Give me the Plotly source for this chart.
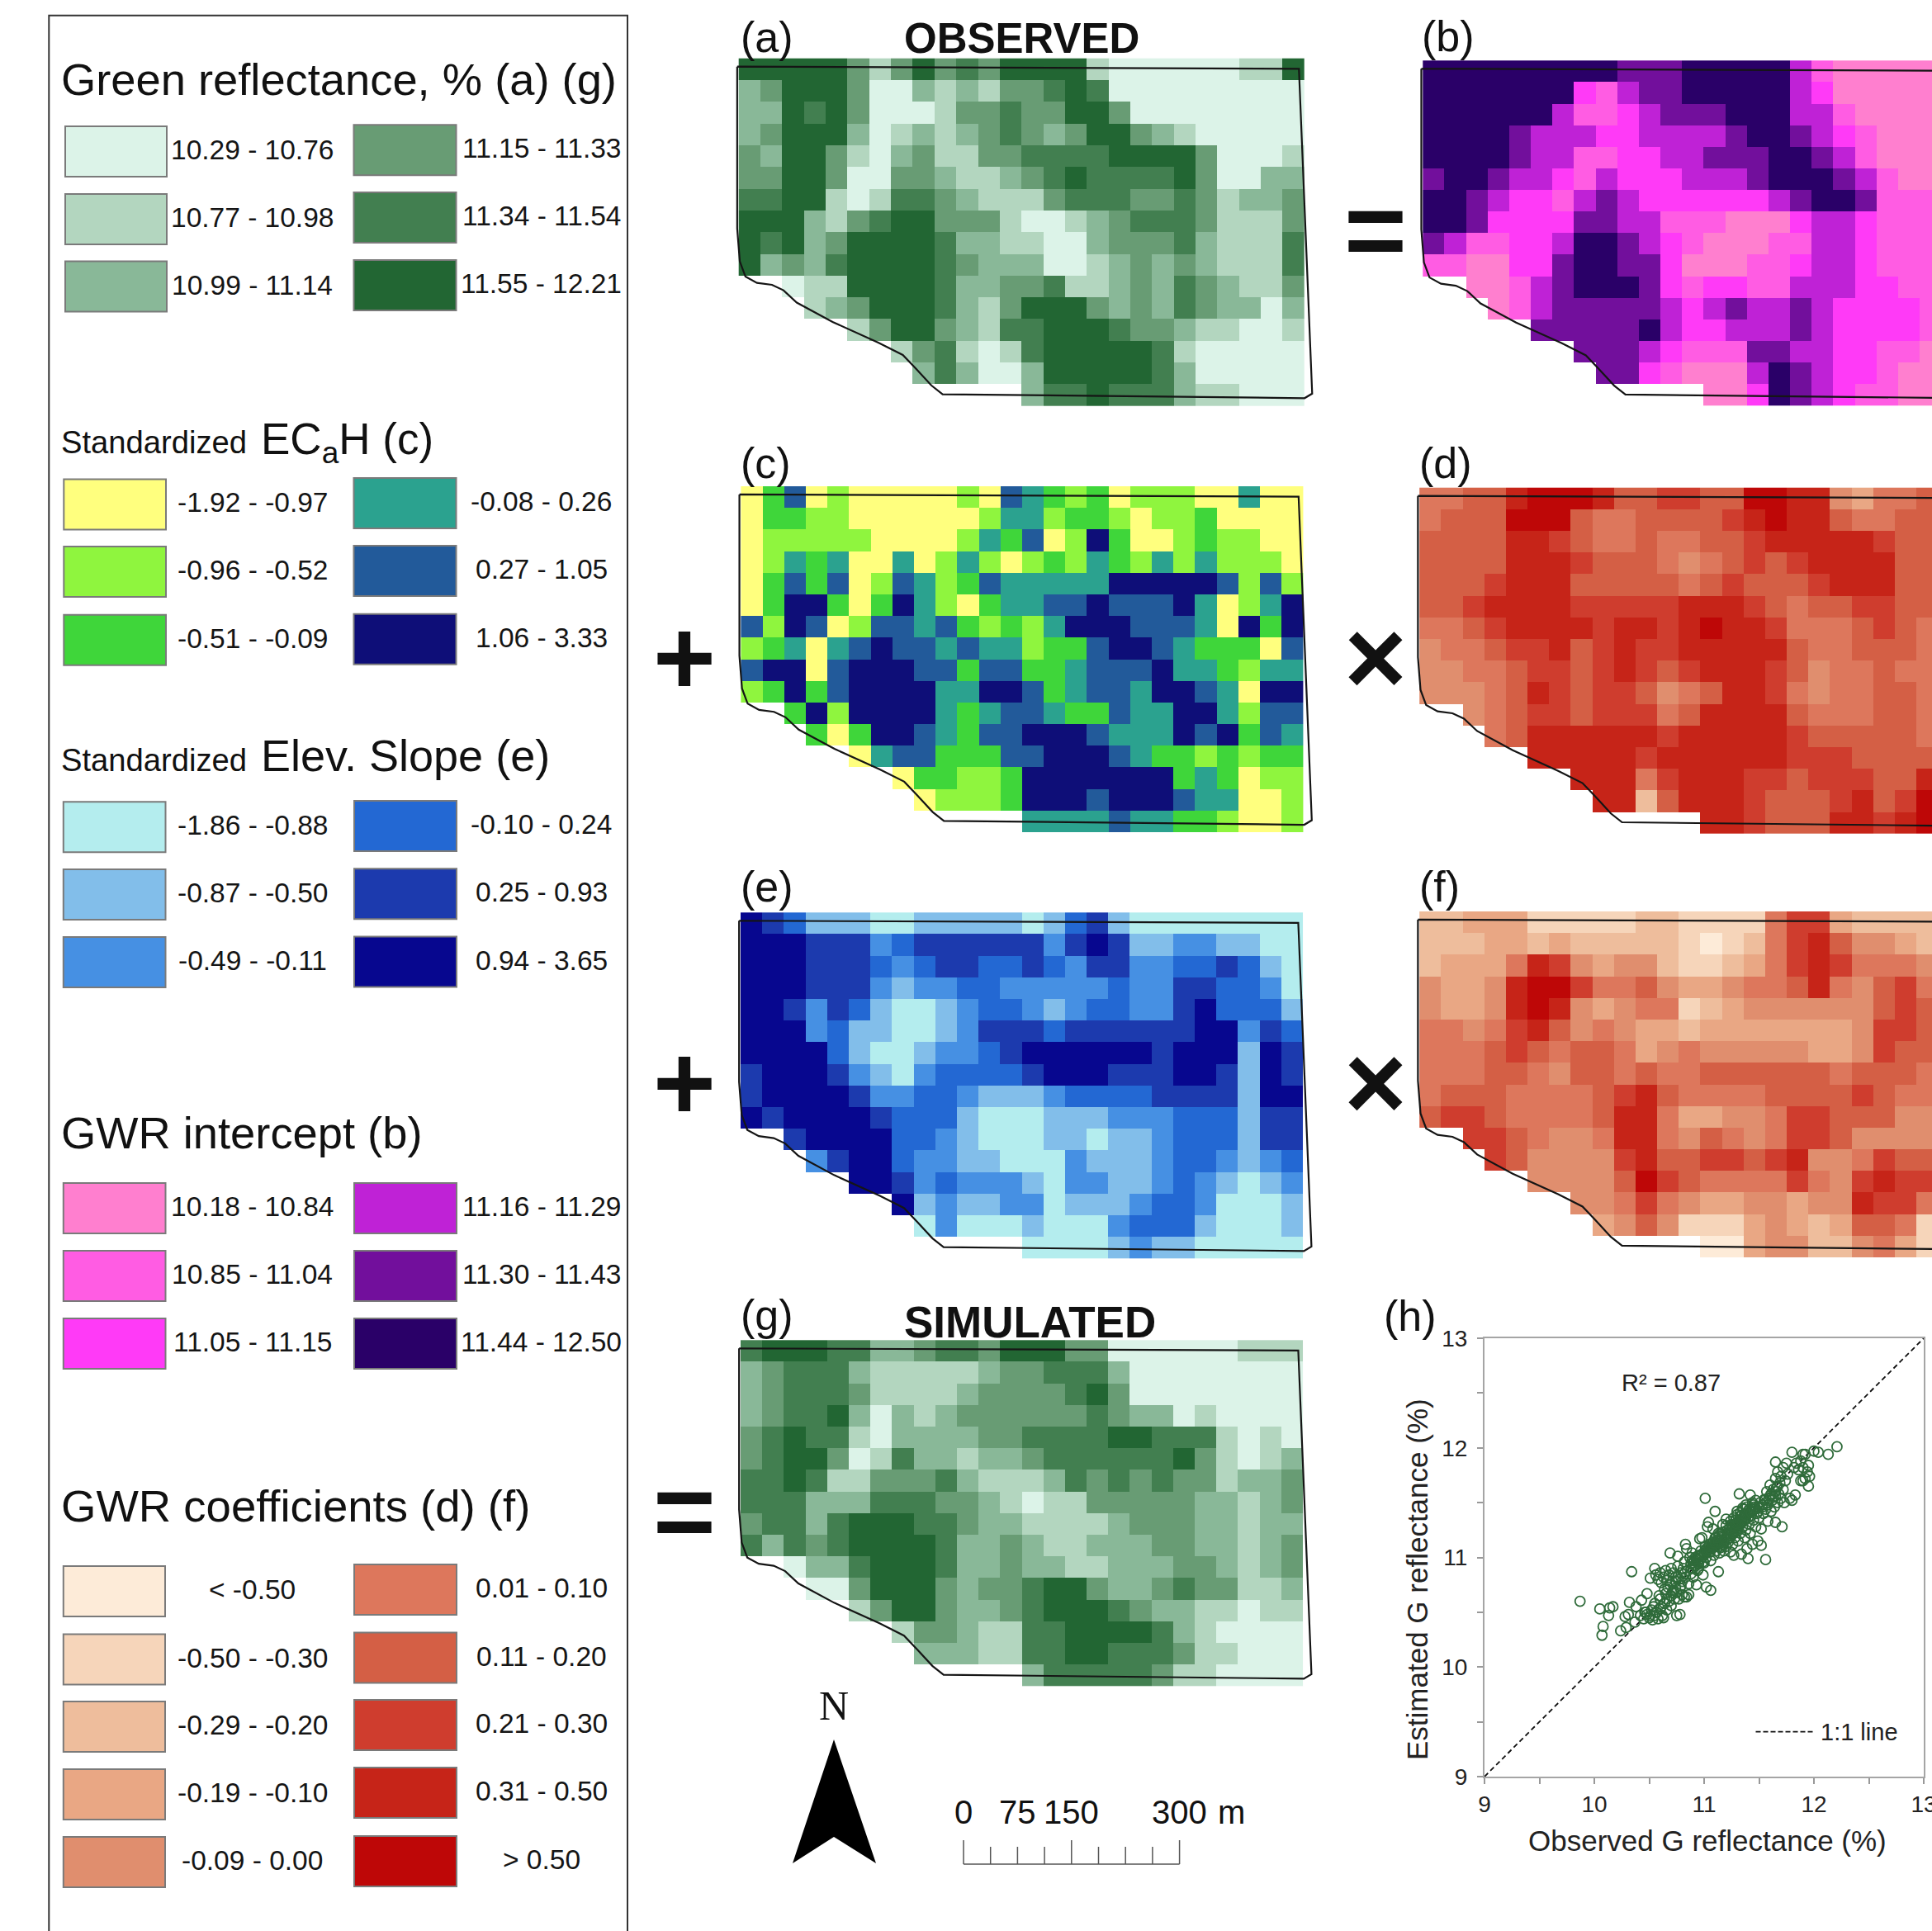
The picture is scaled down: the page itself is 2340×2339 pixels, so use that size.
import plotly.graph_objects as go

W, H = 2340, 2339

# ---------- class rasters (one char per cell, '.' = no data, spaces ignored) ----------
GRID_A = [
"66666 4 2 4 6 4 5 4 6666 2 111111 22 6",
"3 4 666 4 11 3 2 3 2 44 5 6 5 111111111",
"33 6 5 6 4 111 2 44 5 44 66 4 11111111",
"3 4 666 3 1 2 3 2 3 4 5 4 3 4 66 4 3 2 11111",
"4 3 66 4 2 1 3 4 22 44 5555 6666 4 111 2",
"44 66 4 11 44 3 22 3 4 5 6 5555 6 4 11 33",
"55 66 2 1 2 55 4 3 222 4 555 44 5 4 2 33 4",
"666 3 2 4 5 66 444 2 11 2 3 4 555 4 222 4",
"6 5 6 3 4 6666 5 33 22 11 3 444 5 3 222 5",
"6 3 4 3 5 6666 5 4 333 11 2 3 4 3 4 3 222 5",
".. 1 22 6666 5 33 44 5 22 3 4 3 5 4 3 22 4",
"... 2 3 4 666 5 3 2 4 666 4 3 4 3 5 4 33 1 3",
"..... 2 4 66 4 3 2 55 666 5 44 3 22 11 2",
"....... 2 4 5 2 1 2 5 66666 5 2 11111",
"........ 3 5 3 11 3 66666 5 3 11111",
"............. 3 55 6 555 3 22 111",
]
GRID_B = [
"666666666 555 66666 4 2 11111",
"6666666 3 2 4 55 66666 4 3 11111",
"666666 4 22 3 4 555 666 44 2 1111",
"6666 5 444 33 4444 5 66 5 4 3 2 111",
"6666 5 44 22 33 44 555 66 5 4 2 111",
"5 66 5 44 3 2 4 333 444 5 666 5 4 2 11",
"66 5 4 33 2 4 5 4 333333 4 5 66 5 222",
"66 5 3333 55 44 222 111 3 44 3 222",
"5 4 22 33 4 66 5 4 3 2 111 22 44 3 222",
"22 11 33 5 66 55 3 111 22 3 44 3 222",
".. 11 2 4 5 666 5 3 2 33 22 444 33 22",
"... 1 2 4 55555 4 3 4 5 44 5 4 3333 2",
"..... 55555 6 4 33 444 5 4 3333 2",
"....... 555 4 3 222 55 44 33 22 1",
"........ 55 3 2 111 4 6 5 4 33 2 11",
"............. 11 3 6 5 4 3 22 11",
]
GRID_C = [
"1 3 5 1 2 11111 2 1 5 4 3 2 3 1 222 11 4 11",
"1 33 22 111111 2 44 2 33 2 1 22 3 1111",
"1 22222 1111 2 4 3 5 1 2 6 3 11 2 3 22 11",
"1 2 4 3 4 11 4 1 2 4 2 1 2 3 2 4 3 2 4 2 4 222 1",
"1 3 5 3 5 1 2 5 4 2 3 5 44444 66666 5 2 5 2",
"1 3 66 3 1 3 6 4 2 1 3 44 55 6 555 6 4 1 2 4 6",
"5 2 6 5 1 2 55 4 5 3 2 3 2 4 666 555 4 1 6 3 6",
"2 3 4 1 4 5 6 55 4 5 44 2 33 5 66 5 4 333 1 5",
"5 66 1 5 666 55 3 55 33 4 555 6 44 3 2 44",
"2 3 6 3 5 6666 44 66 5 3 4 55 4 66 5 4 1 66",
".. 3 6 2 6666 4 3 4 55 4 33 5 44 66 4 2 55",
"... 3 1 3 66 5 4 3 55 666 5 444 6 5 6 3 5 4",
"..... 1 4 55 333 55 666 5 4 33 2 3 2 33",
"....... 1 33 22 3 6666666 3 4 3 1 22",
"........ 1 222 3 666 5 666 5 44 11 2",
"............. 4444 5 44 33 2 11 2",
]
GRID_D = [
"55 66 8 999 8 66 77 66 99 88 4 3 55 6",
"5 666 999 6 55 6666 7 8 9 88 6 55 66",
"6666 88 7 6 55 6 55 66 7 88888 7 66",
"6666 888 7 666 5 4 5 6 7 6 7 8888 66",
"666 7 888 66666 5 6 7 666 7 888 66",
"66 7 8888 77777 888 7 6 5 66 77 66",
"55 6 7 8888 7 88 7 8 9 88 7 555 6 7 6 5",
"4 55 6 77 8 6 7 8 77 88888 6 55 666 5",
"44 55 6 77 6 7 8 7 6 7 888 7 6 4 55 6 55",
"444 5 6 8 7 6 77 6 4 5 6 88 7 5 4 55 66 5",
".. 4 5 6 77 6 777 5 6 8888 6 555 66 5",
"... 5 6 888888 7 88888 7 66666 5",
"..... 88888 7 888888 777 6666",
"....... 888 5 7 888 77 6 777 66 8",
"........ 88 2 6 888 7 666 7 8 6 7 9",
"............. 88 7 666 88 7 8 9",
]
GRID_E = [
"6 5 4 222 11 22222 1 2 4 5 2 11111111",
"666 555 3 4 555555 3 5 6 5 22 33 22 11",
"666 555 4 3 4 55 44 5 4 3 55 33 44 5 4 2 1",
"666 555 3 2 33 44 33333 4 33 55 44 3 1",
"66 5 3 5 4 2 11 2 3 44 3 2 3 44 33 5 6 444 2",
"666 3 4 22 11 2 3 555 4 555555 66 3 5 4",
"6666 4 2 11 2 33 4 5 666666 5 666 2 6 5",
"5 666 5 3 2 1 3 4444 5 666 555 66 5 2 6 5",
"5 6666 5 33 44 3 222 3 4444 5555 2 66",
"6 5 6666 5 444 2 111 222 333 444 2 55",
".. 5 6666 44 3 2 111 22 1 22 3 444 2 55",
"... 3 5 66 4 33 22 111 3 222 3 44 3 2 3 4",
"..... 66 5 3 4 333 2 1 33 22 3 4 3 2 1 2 3",
"....... 6 2 3 22 33 1 222 3 44 3 111 2",
"........ 1 3 111 2 111 3 444 2 111 2",
"............. 1111 2 3 22 11111",
]
GRID_F = [
"22 333 11111 22 1111 5 77 3 222 2",
"222 33 2 3 22222 1 0 1 2 5 7 8 6 44 3 2",
"2 333 5 8 7 4 3 44 2 11 2 3 5 7 8 7 555 4",
"4 33 4 8 99 7 55 6 4 33 4 55 6 8 5 4 6 7 5",
"4 33 4 8 9 8 4 3 4 55 1 2 3 444444 6 7 6",
"55 4 5 7 8 6 4 5 4 33 2 3333333 4 77 6",
"555 6 7 6 5 66 5 3 4 5 44444 33 4 7 66",
"555 66 5 4 66 5 6 55 666666 5 666 5",
"5 666 5555 6 7 8 6 5555 6666 7 6 55",
"6 77 6 5555 6 88 5 33 44 5 77 666 44",
".. 77 6 5 44 5 88 5 4 6 5 4 5 77 6 4444",
"... 7 6 4444 7 8 66 77 6 7 8 44 5 7 66",
"..... 4444 6 9 7 6 5555 7 5 4 7 8 77",
"....... 44 5 7 5 4 33 44 3 44 8 77 5",
"........ 3 4 6 4 111 3 4 3 2 3 66 5 1",
"............. 00 3 44 22 4 5 3 1",
]
GRID_G = [
"5 666 55 33 4 55 4 666 44 111111 222",
"3 4 555 3 22222 3 44 555 3 11111111",
"3 4 555 4 2222 3 4444 5 6 4 11111111",
"3 4 55 6 3 1 3 2 3 444444 5 4 33 1 2 1111",
"4 5 6 55 2 1 3333 44 5555 66 555 2 1 2 1",
"4 5 66 4 1 2 5 33 2 33 4 555555 6 4 2 1 2 3",
"55 6 5 22 444 5 3 222 3 5 4 5 4 5 44 2 33 4",
"555 333 555 44 3 2 1 22 44444 33 2 3 4",
"4 55 3 5 666 55 4 33 2222 3 444 33 2 33",
"5 3 5 4 5 6666 5 33 4 3 22 333 44 33 2 3 4",
".. 1 33 5 666 5 33 4 33 22 333 44 3 2 3 4",
"... 11 4 666 4 3 44 5 66 4 33 4 5 44 22 3",
"..... 2 4 66 4 33 4 5 666 5 4 33 22 1 22",
"....... 2 44 3 22 55 6666 5 3 2 1111",
"........ 333 22 55 66 555 4 22 111",
"............. 3 55555 4 22 1111",
]

# outline of the field, in cell units
OUTLINE_U = [-0.07, 25.77, 26.38, 26.03, 9.38, 8.86, 8.16, 7.55, 6.42, 4.32, 2.67, 2.06, 1.53, 0.84, 0.31, 0.05, -0.07, -0.07]
OUTLINE_V = [0.38, 0.48, 15.44, 15.65, 15.47, 15.06, 14.3, 13.66, 13.09, 12.14, 11.25, 10.68, 10.43, 10.34, 10.05, 9.35, 7.83, 0.38]

# ---------- colours ----------
C_GREEN = ["#DCF3E8", "#B3D6BF", "#89B898", "#689C74", "#427F50", "#226633"]
C_PINK = ["#FF7FCF", "#FF5CE3", "#FF3AF7", "#BF22D6", "#720F9C", "#2A0068"]
C_EC = ["#FFFF7E", "#8FF53E", "#3FD63A", "#2BA28F", "#225A9A", "#0E0E78"]
C_SLOPE = ["#B4EDEE", "#82BEEA", "#4690E3", "#2368D3", "#1C3AAE", "#07078F"]
C_COEF = ["#FDEBD8", "#F6D5BA", "#EEBD9C", "#E9A784", "#E08E6E", "#DD775C", "#D45F45", "#CF3D2E", "#C62418", "#BE0707"]

# ---------- legend labels ----------
L_GREEN = ["10.29 - 10.76", "10.77 - 10.98", "10.99 - 11.14", "11.15 - 11.33", "11.34 - 11.54", "11.55 - 12.21"]
L_EC = ["-1.92 - -0.97", "-0.96 - -0.52", "-0.51 - -0.09", "-0.08 - 0.26", "0.27 - 1.05", "1.06 - 3.33"]
L_SLOPE = ["-1.86 - -0.88", "-0.87 - -0.50", "-0.49 - -0.11", "-0.10 - 0.24", "0.25 - 0.93", "0.94 - 3.65"]
L_PINK = ["10.18 - 10.84", "10.85 - 11.04", "11.05 - 11.15", "11.16 - 11.29", "11.30 - 11.43", "11.44 - 12.50"]
L_COEF = ["< -0.50", "-0.50 - -0.30", "-0.29 - -0.20", "-0.19 - -0.10", "-0.09 - 0.00",
          "0.01 - 0.10", "0.11 - 0.20", "0.21 - 0.30", "0.31 - 0.50", "> 0.50"]

# ---------- scatter (h) ----------
OBS = [9.87,10.07,10.08,10.05,10.13,10.14,10.17,10.24,10.29,10.37,10.28,10.31,10.32,10.38,10.34,10.43,10.48,10.51,10.55,10.69,10.76,10.83,10.75,10.78,
11.01,11.10,11.02,11.06,11.13,11.40,11.56,11.52,11.32,11.42,12.21,12.13,12.04,12.0,11.80,11.90,11.95,11.95,11.96,11.65,11.75,11.71,11.65,11.83,
10.42,10.45,10.47,10.50,10.52,10.53,10.55,10.55,10.57,10.58,10.60,10.60,10.62,10.63,10.64,10.65,10.66,10.67,10.68,10.70,10.70,10.72,10.73,10.74,10.75,10.77,10.78,10.80,10.82,10.84,10.86,
10.56,10.58,10.60,10.61,10.63,10.65,10.66,10.68,10.70,10.71,10.72,10.74,10.76,10.77,10.79,10.80,10.81,10.82,10.83,10.84,10.85,10.86,10.87,10.88,10.88,10.89,10.90,10.90,10.91,10.92,10.93,10.94,10.95,10.95,10.96,10.97,10.98,10.99,10.99,11.00,11.00,11.01,11.02,11.02,11.03,11.04,11.05,11.05,11.06,11.07,11.08,11.08,11.09,11.10,11.10,11.11,11.12,11.13,11.14,11.14,11.15,11.16,11.17,11.17,11.18,11.19,11.20,11.20,11.21,11.22,11.23,11.24,11.24,11.25,11.26,11.26,11.27,11.28,11.28,11.29,11.30,11.30,11.31,11.32,11.33,11.33,11.34,11.35,11.35,11.36,11.37,11.37,11.38,11.38,11.39,11.40,11.41,11.41,11.42,11.43,11.44,11.44,11.45,11.46,11.47,11.47,11.48,11.49,11.50,11.50,11.52,11.53,11.54,11.55,11.56,11.57,11.58,11.58,11.60,11.60,11.61,11.62,11.63,11.64,11.65,11.65,11.66,11.67,11.67,11.68,11.69,11.70,11.70,11.72,11.72,11.73,11.74,11.76,11.78,11.80,11.82,11.84,11.86,11.88,11.88,11.90,11.90,11.92,11.92,11.94,
11.00,11.02,11.04,11.06,11.08,11.09,11.11,11.12,11.14,11.15,11.16,11.18,11.18,11.20,11.21,11.22,11.23,11.25,11.26,11.27,11.28,11.29,11.30,11.31,11.32,11.33,11.34,11.35,11.37,11.38,11.40,11.42,11.44,11.46,10.90,10.92,10.93,10.95,
10.88,10.89,10.91,10.93,10.94,10.96,10.97,10.98,11.00,11.01,11.03,11.04,11.05,11.07,11.08,11.10,11.11,11.13,11.14,11.16,11.17,11.19,11.20,11.21,11.23,11.24,11.26,11.27,11.29,11.30,11.31,11.33,11.34,11.36,11.37,11.39,11.41,11.43,11.45,11.47,11.49,11.51,11.53,11.55,11.57,11.59,11.61,11.63,11.65,11.67,
10.46,10.48,10.51,10.54,10.56,10.59,10.61,10.64,10.66,10.69,10.71,10.74,10.76,10.79,10.82]
EST = [10.60,10.29,10.37,10.53,10.47,10.54,10.55,10.33,10.36,10.41,10.46,10.48,10.59,10.55,10.87,10.61,10.67,10.81,10.90,11.04,11.01,11.12,10.47,10.48,
11.54,11.42,10.73,10.70,10.87,10.99,10.98,11.11,11.58,11.57,12.01,11.94,11.96,11.97,11.96,11.94,11.84,11.65,11.74,11.87,11.86,11.28,11.32,11.57,
10.47,10.44,10.50,10.45,10.52,10.43,10.47,10.58,10.50,10.44,10.62,10.53,10.47,10.45,10.58,10.67,10.52,10.73,10.60,10.65,10.56,10.70,10.62,10.78,10.68,10.62,10.72,10.66,10.64,10.64,10.66,
10.84,10.80,10.86,10.77,10.82,10.88,10.79,10.84,10.90,10.78,10.86,10.82,10.92,10.80,10.86,10.78,10.90,10.96,10.82,11.08,10.88,10.76,11.00,10.85,10.94,11.04,10.90,10.82,10.97,11.00,10.75,10.88,10.94,11.02,11.17,11.06,11.18,10.84,10.96,11.04,10.95,11.10,11.00,11.08,11.28,11.32,11.05,11.12,10.97,11.08,11.26,11.14,11.02,11.10,11.18,11.06,11.12,11.22,11.04,11.15,11.09,11.20,11.12,11.30,11.06,11.17,11.35,11.10,11.22,11.14,11.26,11.05,11.18,11.30,11.12,11.23,11.02,11.28,11.18,11.34,11.24,11.42,11.15,11.30,11.22,11.38,11.03,11.28,11.45,11.33,11.18,11.40,11.25,11.48,11.08,11.36,11.30,11.44,11.22,11.38,11.50,11.12,11.34,11.44,11.28,11.52,11.40,11.15,11.46,11.36,11.26,11.48,11.40,11.52,11.44,11.60,11.33,11.48,11.56,11.66,11.42,11.52,11.62,11.46,11.56,11.72,11.64,11.50,11.78,11.58,11.68,11.54,11.74,11.62,11.82,11.50,11.70,11.76,11.54,11.52,11.82,11.86,11.80,11.70,11.88,11.70,11.82,11.72,11.94,11.78,
11.02,11.05,11.07,11.08,11.09,11.11,11.13,11.16,11.10,11.13,11.16,11.14,11.19,11.18,11.16,11.22,11.20,11.23,11.27,11.22,11.24,11.28,11.30,11.26,11.34,11.30,11.32,11.36,11.34,11.37,11.40,11.42,11.42,11.46,10.95,10.92,10.98,10.90,
10.90,10.97,10.93,10.99,10.95,11.01,10.99,11.03,11.03,11.06,11.06,11.10,11.08,11.12,11.11,11.13,11.18,11.15,11.21,11.19,11.23,11.17,11.29,11.25,11.26,11.33,11.29,11.36,11.31,11.39,11.33,11.41,11.38,11.44,11.39,11.46,11.43,11.41,11.48,11.45,11.42,11.50,11.46,11.53,11.50,11.54,11.58,11.55,11.60,11.65,
10.50,10.48,10.47,10.55,10.50,10.65,10.55,10.71,10.62,10.75,10.68,10.72,10.82,10.74,10.85]
ONE_ONE = [9, 13]
KEY_X = [11.47, 11.99]
KEY_Y = [9.41, 9.41]
TICKS = [9, 10, 11, 12, 13]
MINOR_TICKS = [9.5, 10.5, 11.5, 12.5]
SCALE_TICKS = [0, 37.5, 75, 112.5, 150, 187.5, 225, 262.5, 300]

FONT = "Liberation Sans"
BLACK = "#111111"


def px(x):
    return x / W


def py(y):
    return 1 - y / H


def stepped(cols):
    n = len(cols)
    out = []
    for i, c in enumerate(cols):
        out += [[i / n, c], [(i + 1) / n, c]]
    return out


def parse(grid, base):
    rows = [r.replace(" ", "") for r in grid]
    return [[None if ch == "." else int(ch) - base for ch in row] for row in rows]


fig = go.Figure()
layout = dict(template="none", width=W, height=H, margin=dict(l=0, r=0, t=0, b=0, pad=0, autoexpand=False),
              paper_bgcolor="white", plot_bgcolor="white", showlegend=False,
              font=dict(family=FONT, color=BLACK))
annotations = []
shapes = []


def text(x, y, s, size, anchor="center", family=FONT, bold=False, color=BLACK, angle=0):
    annotations.append(dict(x=px(x), y=py(y), xref="paper", yref="paper", text=("<b>%s</b>" % s) if bold else s,
                            showarrow=False, xanchor=anchor, yanchor="middle", textangle=angle,
                            font=dict(size=size, family=family, color=color)))


# ---------- maps ----------
MAPS = [
    (GRID_A, C_GREEN, 1, 894.7, 70.7, 26.33, 26.3),
    (GRID_B, C_PINK, 1, 1723.3, 73.3, 26.16, 26.15),
    (GRID_C, C_EC, 1, 897.4, 589.0, 26.21, 26.2),
    (GRID_D, C_COEF, 0, 1719.2, 590.7, 26.16, 26.2),
    (GRID_E, C_SLOPE, 1, 897.0, 1105.3, 26.21, 26.2),
    (GRID_F, C_COEF, 0, 1719.2, 1104.0, 26.16, 26.17),
    (GRID_G, C_GREEN, 1, 897.0, 1623.3, 26.21, 26.2),
]
for i, (grid, cols, base, x0, y0, cw, ch) in enumerate(MAPS):
    k = i + 2
    xa, ya = "x%d" % k, "y%d" % k
    z = parse(grid, base)
    n = len(cols)
    fig.add_trace(go.Heatmap(z=z, x=[j + 0.5 for j in range(len(z[0]))], y=[j + 0.5 for j in range(len(z))],
                             colorscale=stepped(cols), zmin=-0.5, zmax=n - 0.5, showscale=False,
                             hoverinfo="skip", xaxis=xa, yaxis=ya))
    fig.add_trace(go.Scatter(x=OUTLINE_U, y=OUTLINE_V, mode="lines", line=dict(color="#151515", width=2.2),
                             hoverinfo="skip", xaxis=xa, yaxis=ya))
    left = x0 - 0.5 * cw
    right = min(W, x0 + 27 * cw)
    top = y0 - 0.5 * ch
    bottom = y0 + 16.5 * ch
    layout["xaxis%d" % k] = dict(domain=[px(left), px(right)], range=[-0.5, (right - x0) / cw], visible=False, anchor=ya, automargin=False)
    layout["yaxis%d" % k] = dict(domain=[py(bottom), py(top)], range=[16.5, -0.5], visible=False, anchor=xa, automargin=False)

# ---------- scatter ----------
fig.add_trace(go.Scatter(x=ONE_ONE, y=ONE_ONE, mode="lines", line=dict(color="#111111", width=1.8, dash="6px,4px"), hoverinfo="skip"))
fig.add_trace(go.Scatter(x=OBS, y=EST, mode="markers", hoverinfo="skip",
                         marker=dict(symbol="circle-open", size=12, color="#2F6B3A", line=dict(width=1.8, color="#2F6B3A"))))
fig.add_trace(go.Scatter(x=KEY_X, y=KEY_Y, mode="lines", line=dict(color="#111111", width=1.8, dash="6px,3px"), hoverinfo="skip"))
axis_common = dict(range=[9, 13], tickmode="array", tickvals=TICKS, ticks="outside", ticklen=7,
                   tickcolor="#999999", tickwidth=1.5, showgrid=False, zeroline=False, showline=True, mirror=True,
                   linecolor="#A5A5A5", linewidth=2, tickfont=dict(size=28, family=FONT, color="#222222"),
                   automargin=False, ticklabeloverflow="allow",
                   minor=dict(tickmode="array", tickvals=MINOR_TICKS, ticks="outside", ticklen=7, tickcolor="#999999", tickwidth=1.5, showgrid=False))
layout["xaxis"] = dict(domain=[px(1798), px(2330)], anchor="y", ticklabelstandoff=0, **axis_common)
layout["yaxis"] = dict(domain=[py(2152), py(1621)], anchor="x", ticklabelstandoff=6, **axis_common)
text(2068, 2229, "Observed G reflectance (%)", 35, color="#222222")
text(1716, 1913, "Estimated G reflectance (%)", 35, color="#222222", angle=-90)
text(2024, 1675, "R² = 0.87", 29, color="#222222")
text(2203, 2098, "1:1 line", 29, anchor="left", color="#222222")

# ---------- panel labels and operators ----------
for lab, x, y in [("(a)", 895, 45), ("(b)", 1720, 44), ("(c)", 895, 561), ("(d)", 1717, 561), ("(e)", 895, 1074),
                  ("(f)", 1717, 1074), ("(g)", 895, 1593), ("(h)", 1674, 1594)]:
    text(x, y, lab, 52, anchor="left")
text(1093, 46, "OBSERVED", 51, anchor="left", bold=True)
text(1093, 1601, "SIMULATED", 53, anchor="left", bold=True)
for sym, x, y in [("=", 1666, 278), ("+", 829, 796), ("×", 1666, 796), ("+", 829, 1311), ("×", 1666, 1311), ("=", 829, 1830)]:
    text(x, y, sym, 130, bold=True)

# ---------- legend panel ----------
shapes.append(dict(type="path", path="M 59.3,2345 L 59.3,18.7 L 760,18.7 L 760,2345", line=dict(color="#333333", width=2)))


def swatches(cols, labels, lx, rx, ltops, rtops, h, ltext=305.5, rtext=655.5):
    half = len(cols) // 2
    for j in range(half):
        for (xs, tops, idx, tx) in ((lx, ltops, j, ltext), (rx, rtops, j + half, rtext)):
            y = tops[j]
            shapes.append(dict(type="rect", xref="paper", yref="paper", x0=px(xs[0]), x1=px(xs[1]), y0=py(y), y1=py(y + h),
                               fillcolor=cols[idx], line=dict(color="#7A7A7A", width=2)))
            text(tx, y + h / 2 - 2, labels[idx], 33.5, color="#151515")


swatches(C_GREEN, L_GREEN, (79, 202), (428.5, 552.5), [153, 235, 316.6], [151.3, 233, 315], 61)
swatches(C_EC, L_EC, (77.3, 201), (428.5, 552.5), [580.4, 662, 744.7], [579, 661, 743.7], 61)
swatches(C_SLOPE, L_SLOPE, (76.8, 200.5), (429, 553), [971.2, 1053, 1135], [970, 1052.3, 1134.5], 61)
swatches(C_PINK, L_PINK, (76.8, 200.5), (429, 553), [1433, 1515, 1597], [1433, 1515, 1597], 61)
swatches(C_COEF, L_COEF, (76.8, 200), (429, 553), [1897, 1979.5, 2061, 2143, 2225], [1895, 1977.5, 2059, 2141, 2224], 61)

text(72, 97, "Green reflectance, % (a) (g)", 54.3, anchor="left")
text(72, 536, "Standardized", 38.2, anchor="left")
text(314, 535, "EC<sub>a</sub>H (c)", 53, anchor="left")
text(72, 920, "Standardized", 38.2, anchor="left")
text(314, 915, "Elev. Slope (e)", 54, anchor="left")
text(72, 1372, "GWR intercept (b)", 54.3, anchor="left")
text(72, 1824, "GWR coefficients (d) (f)", 54.5, anchor="left")

# ---------- north arrow and scale bar ----------
shapes.append(dict(type="path", path="M 1010,2107 L 1061,2257 L 1010,2225 L 960,2257 Z", fillcolor="black", line=dict(width=0)))
text(1010, 2066, "N", 50, family="Liberation Serif")
SC0, SC1 = 1167, 1428.6
shapes.append(dict(type="line", xref="paper", yref="paper", x0=px(SC0), x1=px(SC1), y0=py(2258), y1=py(2258), line=dict(color="#555555", width=1.5)))
for t in SCALE_TICKS:
    x = SC0 + (SC1 - SC0) * t / 300
    top = 2229 if t in (0, 150, 300) else 2237
    shapes.append(dict(type="line", xref="paper", yref="paper", x0=px(x), x1=px(x), y0=py(2258), y1=py(top), line=dict(color="#555555", width=1.5)))
for lab, t in [("0", 0), ("75", 75), ("150", 150), ("300", 300)]:
    text(SC0 + (SC1 - SC0) * t / 300, 2195, lab, 40)
text(1491, 2195, "m", 40)

# page-pixel paths -> paper coordinates
for s in shapes:
    if s["type"] == "path":
        new = []
        for tk in s["path"].split():
            if "," in tk:
                a, b = tk.split(",")
                new.append("%.6f,%.6f" % (px(float(a)), py(float(b))))
            else:
                new.append(tk)
        s["path"] = " ".join(new)
        s["xref"] = "paper"
        s["yref"] = "paper"

layout["annotations"] = annotations
layout["shapes"] = shapes
fig.update_layout(**layout)
fig.write_html("out.html", config={"displayModeBar": False}, post_script="document.body.style.margin='0';document.documentElement.style.overflow='hidden';")
